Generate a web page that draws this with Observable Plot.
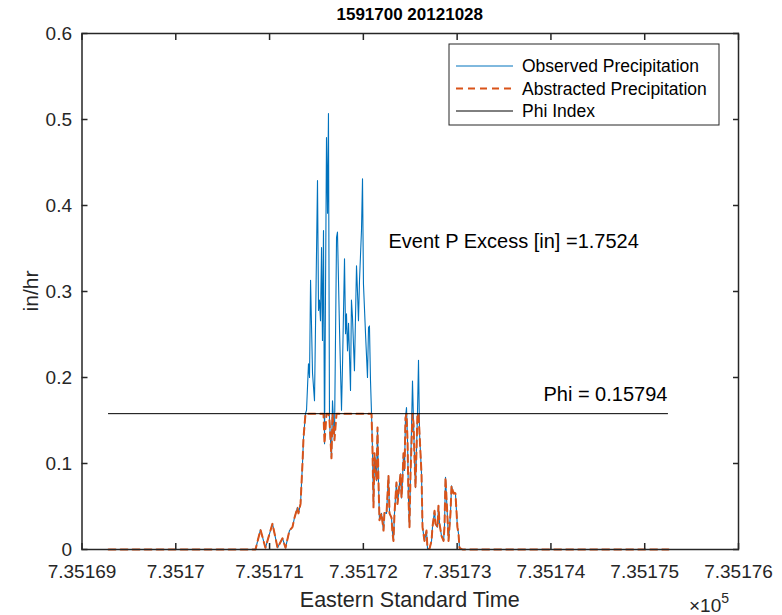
<!DOCTYPE html>
<html>
<head>
<meta charset="utf-8">
<script src="https://cdn.jsdelivr.net/npm/d3@7"></script>
<script src="https://cdn.jsdelivr.net/npm/@observablehq/plot@0.6"></script>
<style>
  html, body { margin: 0; padding: 0; background: #ffffff; }
  #chart { width: 782px; height: 615px; position: relative; }
</style>
</head>
<body>
<div id="chart"></div>
<script>
// ---- Data ----
const titleText = "1591700 20121028";
const xLabel = "Eastern Standard Time";
const yLabel = "in/hr";
const seriesNames = ["Observed Precipitation", "Abstracted Precipitation", "Phi Index"];

// time (MATLAB datenum, days)
const times = [
  735169.283, 735170.850, 735170.903, 735170.956, 735171.031, 735171.085, 735171.138, 735171.170, 735171.212, 735171.244,
  735171.266, 735171.298, 735171.308, 735171.330, 735171.351, 735171.362, 735171.383, 735171.394, 735171.415, 735171.426,
  735171.437, 735171.458, 735171.479, 735171.511, 735171.522, 735171.532, 735171.543, 735171.554, 735171.564, 735171.575,
  735171.586, 735171.607, 735171.618, 735171.628, 735171.639, 735171.660, 735171.671, 735171.692, 735171.714, 735171.724,
  735171.746, 735171.767, 735171.778, 735171.799, 735171.810, 735171.820, 735171.831, 735171.842, 735171.863, 735171.873,
  735171.884, 735171.905, 735171.927, 735171.937, 735171.948, 735171.959, 735171.980, 735171.991, 735172.001, 735172.023,
  735172.044, 735172.055, 735172.065, 735172.076, 735172.087, 735172.097, 735172.108, 735172.119, 735172.140, 735172.151,
  735172.161, 735172.172, 735172.193, 735172.215, 735172.225, 735172.247, 735172.268, 735172.279, 735172.300, 735172.311,
  735172.321, 735172.332, 735172.353, 735172.364, 735172.375, 735172.396, 735172.407, 735172.417, 735172.428, 735172.439,
  735172.449, 735172.460, 735172.471, 735172.481, 735172.492, 735172.503, 735172.524, 735172.535, 735172.545, 735172.556,
  735172.577, 735172.588, 735172.599, 735172.620, 735172.631, 735172.652, 735172.673, 735172.684, 735172.705, 735172.727,
  735172.737, 735172.759, 735172.769, 735172.791, 735172.801, 735172.812, 735172.833, 735172.855, 735172.865, 735172.876,
  735172.897, 735172.908, 735172.929, 735172.940, 735172.961, 735172.972, 735172.982, 735173.003, 735173.014, 735173.025,
  735173.057, 735175.253
];

// observed precipitation (in/hr)
const observed = [
  0, 0, 0.023, 0.002, 0.030, 0.002, 0.013, 0.002, 0.022, 0.026,
  0.037, 0.049, 0.042, 0.053, 0.100, 0.130, 0.158, 0.162, 0.216, 0.200,
  0.313, 0.205, 0.173, 0.429, 0.278, 0.290, 0.266, 0.351, 0.243, 0.371,
  0.123, 0.479, 0.391, 0.507, 0.150, 0.106, 0.173, 0.127, 0.363, 0.369,
  0.255, 0.162, 0.216, 0.338, 0.251, 0.274, 0.231, 0.263, 0.185, 0.290,
  0.270, 0.208, 0.330, 0.301, 0.266, 0.313, 0.371, 0.431, 0.309, 0.251,
  0.200, 0.258, 0.260, 0.197, 0.158, 0.119, 0.049, 0.112, 0.080, 0.142,
  0.080, 0.034, 0.042, 0.022, 0.043, 0.042, 0.086, 0.042, 0.037, 0.019,
  0.010, 0.042, 0.078, 0.053, 0.065, 0.088, 0.060, 0.080, 0.112, 0.092,
  0.153, 0.165, 0.127, 0.060, 0.026, 0.088, 0.196, 0.147, 0.107, 0.072,
  0.158, 0.220, 0.135, 0.088, 0.026, 0.010, 0.022, 0.001, 0.001, 0.010,
  0.026, 0.045, 0.030, 0.026, 0.051, 0.030, 0.016, 0.010, 0.026, 0.084,
  0.037, 0.010, 0.042, 0.074, 0.065, 0.066, 0.065, 0.026, 0.019, 0.002,
  0, 0
];

const phi = 0.15794;
const eventExcess = 1.7524;

const xTicks = [735169, 735170, 735171, 735172, 735173, 735174, 735175, 735176];
const xTickLabels = ["7.35169", "7.3517", "7.35171", "7.35172", "7.35173", "7.35174", "7.35175", "7.35176"];
const yTicks = [0, 0.1, 0.2, 0.3, 0.4, 0.5, 0.6];
const yTickLabels = ["0", "0.1", "0.2", "0.3", "0.4", "0.5", "0.6"];

// annotation anchors (data units)
const eventLabelPos = {t: 735172.268, v: 0.358};
const phiLabelPos = {t: 735173.920, v: 0.180};

// ---- Build tables ----
const obsData = times.map((t, i) => ({t, v: observed[i]}));
const absData = times.map((t, i) => ({t, v: Math.min(observed[i], phi)}));

const FONT = "'Liberation Sans', Arial, Helvetica, sans-serif";
const AX = "#262626";
const BLUE = "#0072BD";
const ORANGE = "#D95319";

const W = 782, H = 615;
const mL = 81.5, mR = 44, mT = 33, mB = 66;

const plot = Plot.plot({
  width: W, height: H,
  marginLeft: mL, marginRight: mR, marginTop: mT, marginBottom: mB,
  style: {fontFamily: FONT, fontSize: "19px", color: AX, background: "#ffffff", overflow: "visible"},
  x: {domain: [xTicks[0], xTicks[xTicks.length - 1]]},
  y: {domain: [yTicks[0], yTicks[yTicks.length - 1]]},
  marks: [
    Plot.line(obsData, {x: "t", y: "v", stroke: BLUE, strokeWidth: 1.1}),
    Plot.line(absData, {x: "t", y: "v", stroke: ORANGE, strokeWidth: 2, strokeDasharray: "7,5"}),
    Plot.ruleY([phi], {x1: times[0], x2: times[times.length - 1], stroke: "#000000", strokeWidth: 1}),
    Plot.text([`Event P Excess [in] =${eventExcess}`], {x: eventLabelPos.t, y: eventLabelPos.v, text: d => d, textAnchor: "start", fill: "#000000", fontSize: 20}),
    Plot.text([`Phi = ${phi}`], {x: phiLabelPos.t, y: phiLabelPos.v, text: d => d, textAnchor: "start", fill: "#000000", fontSize: 20}),
    Plot.frame({stroke: AX, strokeWidth: 1.5}),
    // inward tick marks on all four sides
    Plot.axisX(xTicks, {anchor: "bottom", tickSize: 6, dy: -6, text: null, label: null, stroke: AX, strokeWidth: 1.5}),
    Plot.axisX(xTicks, {anchor: "top", tickSize: 6, dy: 6, text: null, label: null, stroke: AX, strokeWidth: 1.5}),
    Plot.axisY(yTicks, {anchor: "left", tickSize: 6, dx: 6, text: null, label: null, stroke: AX, strokeWidth: 1.5}),
    Plot.axisY(yTicks, {anchor: "right", tickSize: 6, dx: -6, text: null, label: null, stroke: AX, strokeWidth: 1.5}),
    // tick labels
    Plot.axisX(xTicks, {anchor: "bottom", tickSize: 0, tickPadding: 15, label: null,
      tickFormat: d => xTickLabels[xTicks.indexOf(d)], fill: AX}),
    Plot.axisY(yTicks, {anchor: "left", tickSize: 0, tickPadding: 10, label: null,
      tickFormat: d => yTickLabels[yTicks.indexOf(d)], fill: AX})
  ]
});

document.getElementById("chart").appendChild(plot);

// ---- Titles, labels, legend ----
const svg = d3.select(plot);
const cx = mL + (W - mL - mR) / 2;

svg.append("text").attr("x", cx).attr("y", 20).attr("text-anchor", "middle")
  .attr("font-family", FONT).attr("font-size", 17).attr("font-weight", "bold").attr("fill", "#000")
  .text(titleText);

svg.append("text").attr("x", cx).attr("y", 607).attr("text-anchor", "middle")
  .attr("font-family", FONT).attr("font-size", 21.5).attr("fill", AX)
  .text(xLabel);

svg.append("text").attr("transform", "translate(38,291) rotate(-90)").attr("text-anchor", "middle")
  .attr("font-family", FONT).attr("font-size", 21).attr("fill", AX)
  .text(yLabel);

const expo = svg.append("text").attr("x", 689).attr("y", 612).attr("text-anchor", "start")
  .attr("font-family", FONT).attr("font-size", 19).attr("fill", AX);
expo.append("tspan").text("\u00d710");
expo.append("tspan").attr("font-size", 14).attr("dy", -9).text("5");

// legend box
const lg = svg.append("g").attr("transform", "translate(449,44)");
lg.append("rect").attr("x", 0).attr("y", 0).attr("width", 270).attr("height", 81)
  .attr("fill", "#ffffff").attr("stroke", AX).attr("stroke-width", 1);
const legendStyles = [
  {stroke: BLUE, width: 1, dash: null},
  {stroke: ORANGE, width: 2, dash: "7,5"},
  {stroke: "#000000", width: 1, dash: null}
];
const rowY = [22, 44.5, 67];
seriesNames.forEach((name, i) => {
  const s = legendStyles[i];
  lg.append("line").attr("x1", 7).attr("x2", 64).attr("y1", rowY[i]).attr("y2", rowY[i])
    .attr("stroke", s.stroke).attr("stroke-width", s.width).attr("stroke-dasharray", s.dash);
  lg.append("text").attr("x", 73).attr("y", rowY[i]).attr("dy", "0.35em").attr("text-anchor", "start")
    .attr("font-family", FONT).attr("font-size", 17.5).attr("fill", "#000")
    .text(name);
});
</script>
</body>
</html>
